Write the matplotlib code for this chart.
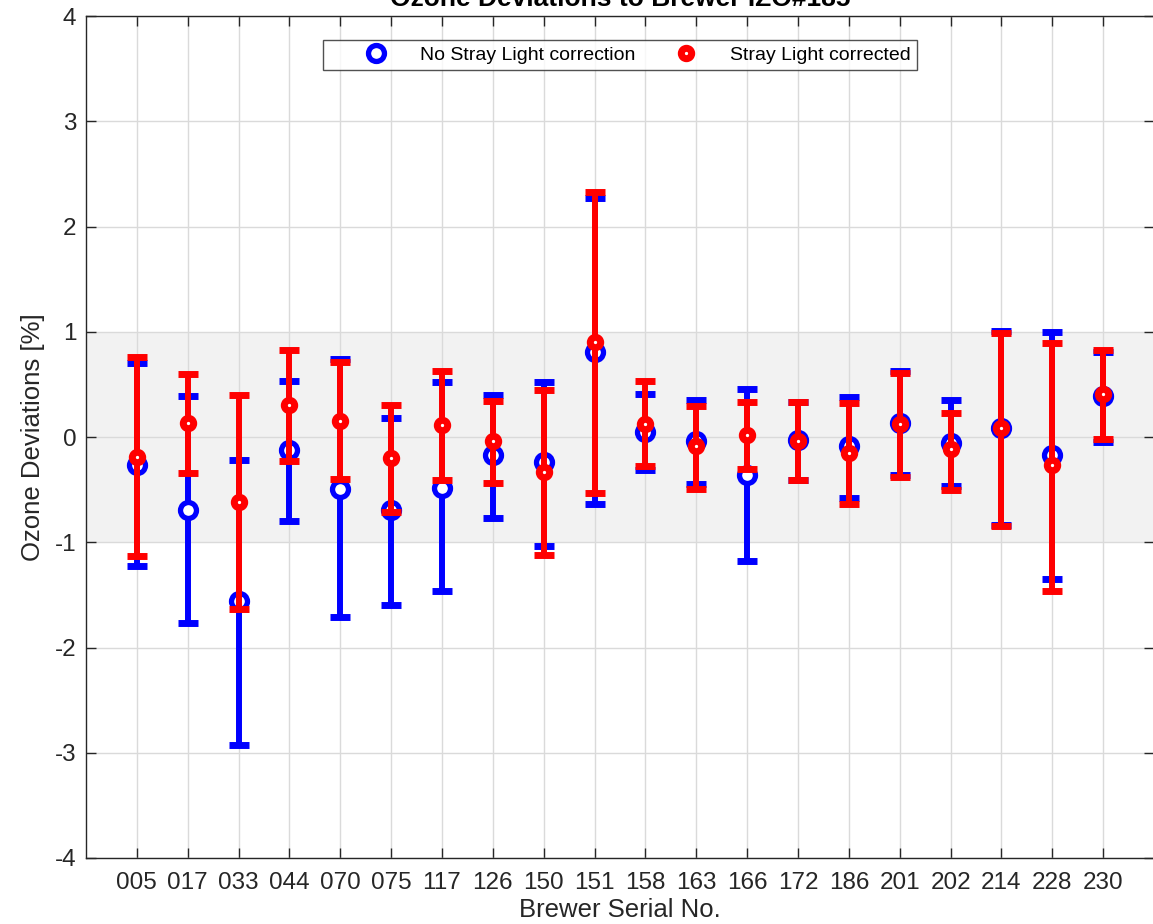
import matplotlib
matplotlib.use("Agg")
import matplotlib.pyplot as plt
from matplotlib.lines import Line2D
import numpy as np

plt.rcParams['font.family'] = ['Liberation Sans', 'DejaVu Sans']
plt.rcParams['axes.unicode_minus'] = False

categories = ['005', '017', '033', '044', '070', '075', '117', '126', '150', '151',
              '158', '163', '166', '172', '186', '201', '202', '214', '228', '230']

blue_center = [-0.27, -0.69, -1.56, -0.12, -0.49, -0.69, -0.48, -0.17, -0.24, 0.81,
               0.05, -0.04, -0.36, -0.03, -0.085, 0.13, -0.06, 0.09, -0.17, 0.39]
blue_upper = [0.70, 0.39, -0.22, 0.53, 0.74, 0.18, 0.52, 0.40, 0.525, 2.27,
              0.41, 0.35, 0.455, 0.33, 0.38, 0.63, 0.35, 1.01, 1.00, 0.81]
blue_lower = [-1.23, -1.77, -2.93, -0.80, -1.71, -1.60, -1.46, -0.77, -1.04, -0.64,
              -0.31, -0.45, -1.18, -0.41, -0.58, -0.36, -0.47, -0.84, -1.35, -0.045]

red_center = [-0.19, 0.13, -0.62, 0.30, 0.15, -0.20, 0.11, -0.035, -0.33, 0.905,
              0.12, -0.09, 0.02, -0.04, -0.155, 0.12, -0.11, 0.09, -0.27, 0.405]
red_upper = [0.757, 0.60, 0.40, 0.83, 0.71, 0.30, 0.63, 0.345, 0.45, 2.33,
             0.535, 0.295, 0.335, 0.335, 0.32, 0.605, 0.225, 0.99, 0.89, 0.83]
red_lower = [-1.13, -0.34, -1.63, -0.23, -0.40, -0.71, -0.41, -0.44, -1.12, -0.53,
             -0.28, -0.49, -0.30, -0.41, -0.64, -0.38, -0.50, -0.85, -1.46, -0.02]

yticks = [-4, -3, -2, -1, 0, 1, 2, 3, 4]

fig = plt.figure(figsize=(11.53, 9.24), dpi=100)
ax = fig.add_axes([86 / 1153, 1 - 858 / 924, 1068 / 1153, 842 / 924])

x = np.arange(1, len(categories) + 1)

ax.axhspan(-1, 1, color='#f2f2f2', zorder=0.2, lw=0)


def draw(center, upper, lower, color, ms, mew):
    c = np.array(center)
    yerr = np.vstack([c - np.array(lower), np.array(upper) - c])
    ax.errorbar(x, c, yerr=yerr, fmt='none', ecolor=color, elinewidth=4.3,
                capsize=7.2, capthick=5, zorder=2)
    ax.plot(x, c, linestyle='none', marker='o', markersize=ms, markerfacecolor='white',
            markeredgecolor=color, markeredgewidth=mew, zorder=2)


draw(blue_center, blue_upper, blue_lower, '#0000ff', 11.5, 3.8)
draw(red_center, red_upper, red_lower, '#ff0000', 7.5, 5)

ax.set_xlim(0, len(categories) + 1)
ax.set_ylim(-4, 4)
ax.set_xticks(x)
ax.set_xticklabels(categories)
ax.set_yticks(yticks)
ax.set_yticklabels([str(v) for v in yticks])

ax.set_axisbelow(True)
ax.grid(True, color='#dadada', linewidth=1)
ax.tick_params(direction='in', length=7, width=1, top=True, right=True,
               labelsize=17.5, colors='#262626')
ax.tick_params(axis='x', pad=10)
ax.tick_params(axis='y', pad=7)
for s in ax.spines.values():
    s.set_color('#262626')
    s.set_linewidth(1)

ax.set_xlabel('Brewer Serial No.', fontsize=18.5, color='#262626', labelpad=3)
ax.set_ylabel('Ozone Deviations [%]', fontsize=18.5, color='#262626', labelpad=7)
ax.set_title('Ozone Deviations to Brewer IZO#185', fontsize=19, fontweight='bold',
             color='black', pad=7)

handles = [
    Line2D([], [], linestyle='none', marker='o', markersize=11.5, markerfacecolor='white',
           markeredgecolor='#0000ff', markeredgewidth=3.8),
    Line2D([], [], linestyle='none', marker='o', markersize=7.5, markerfacecolor='white',
           markeredgecolor='#ff0000', markeredgewidth=5),
]
leg = ax.legend(handles, ['No Stray Light correction', 'Stray Light corrected'],
                loc='upper center', bbox_to_anchor=(0.5, 1 - 24 / 842), ncol=2,
                fontsize=14, frameon=True, fancybox=False, edgecolor='#262626',
                handlelength=4.8, handletextpad=-0.15, columnspacing=0.2,
                borderpad=0.33, borderaxespad=0)
leg.get_frame().set_linewidth(1)

fig.savefig('out.png', dpi=100)
